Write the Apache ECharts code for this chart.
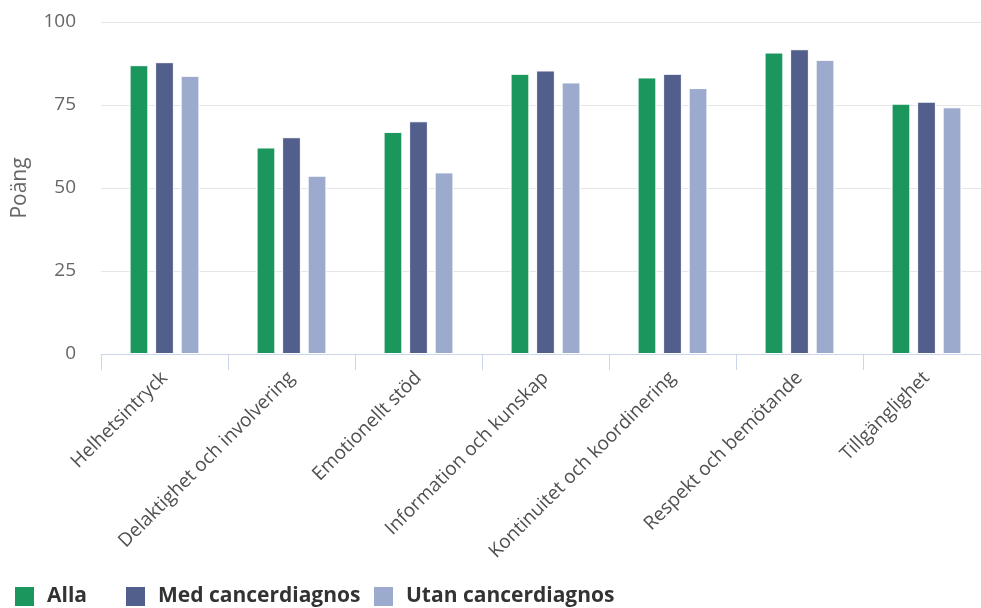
<!DOCTYPE html>
<html>
<head>
<meta charset="utf-8">
<script src="https://cdn.jsdelivr.net/npm/echarts@6/dist/echarts.min.js"></script>
<style>
  html, body { margin: 0; padding: 0; background: #fff; overflow: hidden; }
  #chart { width: 990px; height: 608px; }
</style>
</head>
<body>
<div id="chart"></div>
<script>
// Patientupplevelse per dimension, poäng 0–100
const categories = [
  'Helhetsintryck',
  'Delaktighet och involvering',
  'Emotionellt stöd',
  'Information och kunskap',
  'Kontinuitet och koordinering',
  'Respekt och bemötande',
  'Tillgänglighet'
];
const seriesNames = ['Alla', 'Med cancerdiagnos', 'Utan cancerdiagnos'];
const alla = [87.0, 62.2, 66.9, 84.4, 83.3, 90.8, 75.4];
const medCancer = [87.9, 65.3, 70.1, 85.4, 84.4, 91.8, 76.0];
const utanCancer = [83.8, 53.7, 54.7, 81.8, 80.1, 88.6, 74.3];
const yTicks = [0, 25, 50, 75, 100];

const FONT = '"Open Sans", "DejaVu Sans", sans-serif';
const colors = ['#1b975d', '#525e8c', '#9caace'];
const legendLefts = [13, 124, 372];

const chart = echarts.init(document.getElementById('chart'));

function barSeries(name, data, color) {
  return {
    name: name,
    type: 'bar',
    data: data,
    barGap: '36%',
    barCategoryGap: '45%',
    itemStyle: { color: color, borderColor: '#ffffff', borderWidth: 1 },
    emphasis: { disabled: true }
  };
}

// one legend entry per component so each can sit at its own offset
const legends = seriesNames.map(function (name, i) {
  return {
    left: legendLefts[i],
    top: 585,
    padding: 0,
    itemWidth: 21,
    itemHeight: 21,
    icon: 'rect',
    textStyle: {
      fontFamily: FONT, fontSize: 21, fontWeight: 'bold', color: '#333333',
      padding: [0, 0, 0, 7]
    },
    data: [name]
  };
});

chart.setOption({
  animation: false,
  color: colors,
  textStyle: { fontFamily: FONT },
  grid: { left: 101, right: 0, top: 22, bottom: 254, containLabel: false },
  legend: legends,
  xAxis: {
    type: 'category',
    data: categories,
    axisLine: { lineStyle: { color: '#ccd6eb', width: 1 } },
    axisTick: { show: true, length: 16, lineStyle: { color: '#ccd6eb' } },
    axisLabel: {
      rotate: 45,
      interval: 0,
      margin: 21,
      fontFamily: FONT,
      fontSize: 19,
      color: '#505050'
    }
  },
  yAxis: {
    type: 'value',
    min: yTicks[0],
    max: yTicks[yTicks.length - 1],
    interval: 25,
    name: 'Poäng',
    nameLocation: 'middle',
    nameGap: 70,
    nameRotate: 90,
    nameTextStyle: { fontFamily: FONT, fontSize: 21, color: '#666666' },
    axisLine: { show: false },
    axisTick: { show: false },
    splitLine: { lineStyle: { color: '#e6e6e6', width: 1 } },
    axisLabel: { fontFamily: FONT, fontSize: 19, color: '#666666', margin: 25 }
  },
  series: [
    barSeries(seriesNames[0], alla, colors[0]),
    barSeries(seriesNames[1], medCancer, colors[1]),
    barSeries(seriesNames[2], utanCancer, colors[2])
  ]
});
</script>
</body>
</html>
